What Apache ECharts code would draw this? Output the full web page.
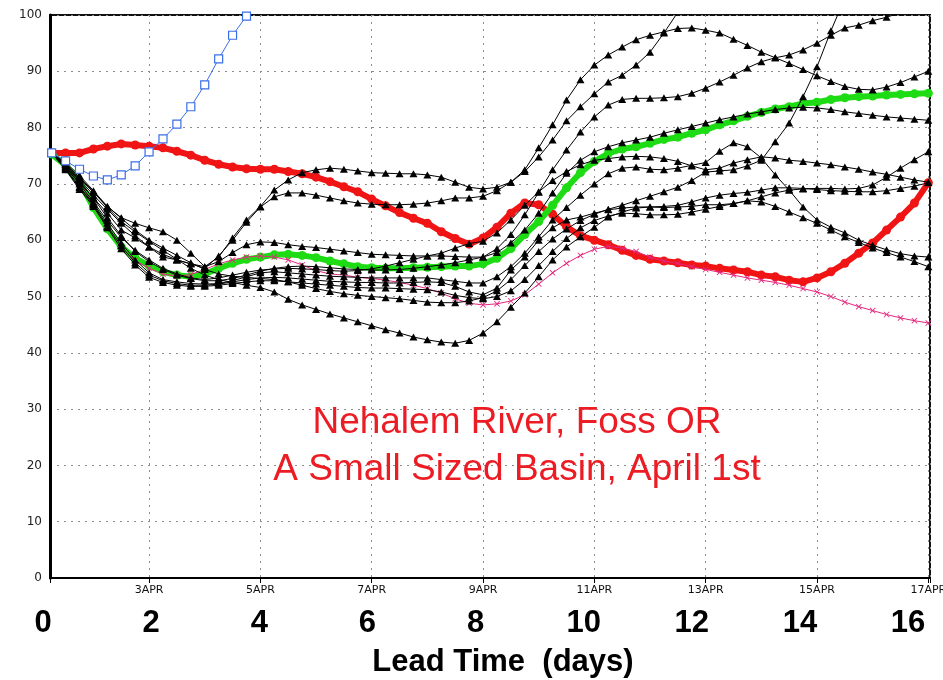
<!DOCTYPE html>
<html>
<head>
<meta charset="utf-8">
<script src="https://cdn.jsdelivr.net/npm/echarts@6/dist/echarts.min.js"></script>
<style>
  html, body { margin: 0; padding: 0; background: #ffffff; }
  #chart { width: 943px; height: 680px; }
</style>
</head>
<body>
<div id="chart"></div>
<script>
// Forecast valid times, in days after 1 April 00Z (6-hourly steps)
const leadDays = [
  0.25, 0.5, 0.75, 1, 1.25, 1.5, 1.75, 2, 2.25, 2.5, 2.75, 3, 3.25, 3.5, 3.75, 4,
  4.25, 4.5, 4.75, 5, 5.25, 5.5, 5.75, 6, 6.25, 6.5, 6.75, 7, 7.25, 7.5, 7.75, 8,
  8.25, 8.5, 8.75, 9, 9.25, 9.5, 9.75, 10, 10.25, 10.5, 10.75, 11, 11.25, 11.5, 11.75, 12,
  12.25, 12.5, 12.75, 13, 13.25, 13.5, 13.75, 14, 14.25, 14.5, 14.75, 15, 15.25, 15.5, 15.75, 16
];

// Date ticks on the plot axis and their labels
const dateTickDays = [2, 4, 6, 8, 10, 12, 14, 16];
const dateTickLabels = ['3APR', '5APR', '7APR', '9APR', '11APR', '13APR', '15APR', '17APR'];

// Lead-time labels under the dates
const leadTickValues = [0, 2, 4, 6, 8, 10, 12, 14, 16];

const annotationLines = ['Nehalem River, Foss OR', 'A Small Sized Basin, April 1st'];
const axisTitle = 'Lead Time  (days)';

// Single-valued forecast (red)
const singleValued = [
  75.5, 75.5, 75.5, 76.2, 76.7, 77.1, 76.9, 76.7,
  76.4, 75.8, 75.1, 74.2, 73.5, 73.0, 72.7, 72.6,
  72.6, 72.2, 71.8, 71.2, 70.4, 69.5, 68.6, 67.3,
  66.1, 64.9, 63.9, 63.0, 61.5, 60.3, 59.3, 60.4,
  62.3, 64.8, 66.6, 66.3, 64.6, 62.4, 60.8, 60.0,
  59.2, 58.2, 57.3, 56.6, 56.3, 56.0, 55.6, 55.4,
  55.0, 54.7, 54.4, 53.8, 53.5, 52.9, 52.6, 53.3,
  54.4, 55.9, 57.7, 59.5, 61.8, 64.1, 66.6, 70.2
];

// Ensemble mean (green)
const ensembleMean = [
  75.3, 73.3, 70.4, 65.8, 62.0, 58.8, 56.8, 55.5,
  54.4, 53.8, 53.5, 54.0, 55.0, 55.9, 56.6, 57.0,
  57.4, 57.5, 57.3, 56.9, 56.3, 55.8, 55.3, 55.1,
  55.0, 55.0, 55.1, 55.2, 55.3, 55.4, 55.4, 55.8,
  56.8, 58.5, 61.0, 63.3, 66.2, 69.3, 72.0, 74.0,
  75.4, 76.2, 76.6, 77.2, 77.9, 78.3, 79.0, 79.6,
  80.5, 81.2, 82.0, 82.7, 83.3, 83.7, 84.3, 84.5,
  85.0, 85.3, 85.5, 85.6, 85.8, 85.9, 86.0, 86.1
];

// Baseline simulation (magenta, x markers)
const baselineRun = [
  75.4, 73.6, 70.6, 65.9, 62.2, 58.6, 56.4, 55.0,
  54.0, 53.6, 53.9, 54.8, 55.8, 56.5, 57.0, 57.2,
  57.0, 56.5, 55.6, 54.6, 54.0, 53.8, 53.4, 53.2,
  52.9, 52.5, 52.0, 51.4, 50.6, 49.6, 48.8, 48.5,
  48.7, 49.2, 50.3, 52.2, 54.2, 55.9, 57.3, 58.4,
  58.9, 58.6, 58.0, 57.0, 56.3, 55.9, 55.3, 54.8,
  54.3, 53.8, 53.3, 52.9, 52.5, 52.0, 51.4, 50.8,
  50.0, 49.0, 48.2, 47.5, 46.8, 46.2, 45.7, 45.3
];

// Unadjusted run (blue, open squares) - leaves the scale early on day 4
const unadjustedRun = [
  75.5, 74.1, 72.6, 71.4, 70.7, 71.6, 73.2, 75.7,
  78.0, 80.6, 83.7, 87.6, 92.2, 96.4, 99.8, 103.5
];

// Ensemble members (black, triangles)
const member01 = [
  75.5, 73.5, 71.0, 68.5, 66.0, 64.0, 63.0, 62.2,
  61.5, 60.0, 57.7, 55.3, 57.0, 60.4, 63.6, 66.0,
  68.9, 70.7, 72.0, 72.5, 72.8, 72.6, 72.3, 72.0,
  71.9, 71.8, 71.8, 71.6, 71.2, 70.3, 69.4, 69.1,
  69.4, 70.3, 72.5, 76.4, 80.5, 84.9, 88.5, 91.1,
  92.9, 94.3, 95.6, 96.4, 97.0, 97.6, 97.7, 97.3,
  96.8, 95.7, 94.6, 93.4, 92.4, 91.4, 90.3, 89.2,
  88.2, 87.3, 86.8, 86.7, 87.2, 88.0, 89.0, 90.0
];
const member02 = [
  75.5, 73.0, 70.2, 67.5, 64.8, 61.8, 60.4, 58.8,
  57.0, 56.5, 55.8, 55.0, 57.2, 60.0, 63.2, 65.9,
  67.7, 68.4, 68.4, 68.0, 67.5, 67.0, 66.6, 66.4,
  66.3, 66.3, 66.4, 66.6, 67.0, 67.5, 67.5, 67.8,
  68.8, 70.3, 72.2, 74.8, 77.8, 81.2, 83.7, 86.0,
  88.1, 89.3, 91.1, 93.4, 96.8, 100.5, 104.5
];
const member03 = [
  75.5, 73.2, 70.5, 67.5, 64.0, 60.8, 58.0, 56.2,
  54.8, 53.8, 53.2, 52.8, 52.8, 53.2, 53.8, 54.5,
  55.0, 55.3, 55.4, 55.3, 55.1, 54.9, 54.8, 54.7,
  54.7, 54.8, 55.0, 55.3, 55.6, 56.0, 56.5, 57.0,
  58.5, 61.0, 64.5, 68.5, 72.5, 76.0, 79.2, 81.9,
  84.0, 85.0, 85.2, 85.2, 85.3, 85.5, 86.1, 87.0,
  88.1, 89.3, 90.6, 91.7, 92.4, 92.9, 93.8, 95.0,
  96.4, 97.7, 98.2, 99.0, 99.6, 100.4, 101.2, 102.0
];
const member04 = [
  75.5, 73.3, 70.8, 68.0, 65.5, 63.0, 60.8, 58.8,
  57.5, 56.5, 55.8, 55.3, 56.2, 57.8, 59.2, 59.7,
  59.6, 59.2, 58.9, 58.7, 58.4, 58.1, 57.8, 57.5,
  57.4, 57.3, 57.2, 57.2, 57.2, 57.1, 57.0, 57.0,
  57.8, 59.5, 61.8, 64.8, 68.4, 71.9, 74.2, 75.7,
  76.6, 77.3, 77.8, 78.3, 79.0, 79.6, 80.2, 80.8,
  81.4, 81.9, 82.4, 82.8, 83.2, 83.5, 83.6, 83.5,
  83.2, 82.8, 82.5, 82.2, 81.9, 81.7, 81.5, 81.3
];
const member05 = [
  75.5, 73.0, 70.0, 66.8, 63.5, 60.5, 58.2, 56.5,
  55.0, 54.0, 53.3, 53.0, 53.3, 53.8, 54.3, 54.7,
  54.9, 55.0, 54.9, 54.8, 54.6, 54.5, 54.6, 54.9,
  55.4, 56.0, 56.6, 57.2, 57.7, 58.6, 59.4, 59.8,
  61.3, 63.6, 66.2, 68.6, 70.6, 72.2, 73.4, 74.2,
  74.5, 74.8, 74.9, 74.8, 74.5, 74.0, 73.2, 72.5,
  72.8, 73.7, 74.3, 74.8, 74.6, 74.2, 74.0, 73.7,
  73.4, 73.0, 72.6, 72.1, 71.7, 71.2, 70.7, 70.3
];
const member06 = [
  75.5, 72.8, 69.5, 66.5, 63.0, 59.5, 56.5, 54.2,
  53.0, 52.6, 52.3, 52.2, 52.3, 52.8, 53.5, 54.2,
  54.4, 54.2, 54.0, 53.8, 53.6, 53.5, 53.4, 53.3,
  53.3, 53.3, 53.3, 53.3, 53.0, 52.7, 52.4, 52.4,
  53.5, 55.3, 57.7, 60.6, 63.6, 65.8, 68.0, 70.0,
  71.8, 72.8, 73.0, 72.6, 72.5, 72.8, 73.3, 73.8,
  75.8, 77.3, 76.6, 74.6, 71.6, 68.9, 65.9, 63.6,
  62.3, 61.3, 60.0, 59.1, 58.3, 57.6, 57.2, 57.0
];
const member07 = [
  75.5, 72.6, 69.3, 66.3, 62.5, 59.0, 56.0, 53.8,
  52.8, 52.3, 52.0, 52.0, 52.2, 52.6, 53.0, 53.3,
  53.4, 53.3, 53.1, 52.9, 52.7, 52.6, 52.5, 52.5,
  52.4, 52.4, 52.5, 52.6, 52.5, 51.8, 50.8, 50.3,
  51.5, 54.7, 57.0, 60.0, 62.2, 63.6, 64.1, 64.8,
  65.4, 65.7, 65.9, 65.9, 65.8, 65.9, 66.0, 66.3,
  66.3, 66.5, 67.0, 67.7, 68.4, 68.9, 69.1, 69.2,
  69.2, 69.1, 69.2, 69.8, 71.2, 72.8, 74.3, 75.7
];
const member08 = [
  75.5, 72.5, 69.0, 66.0, 62.2, 58.5, 55.6, 53.4,
  52.5, 52.0, 51.8, 51.8, 52.0, 52.3, 52.6, 52.8,
  52.8, 52.6, 52.4, 52.2, 52.0, 51.8, 51.6, 51.5,
  51.5, 51.4, 51.3, 51.2, 50.8, 50.2, 49.8, 49.6,
  50.0, 51.0, 53.0, 55.5, 58.0, 60.3, 62.2, 63.5,
  64.3, 64.8, 64.7, 64.5, 64.5, 64.6, 65.0, 65.5,
  66.0, 66.5, 67.0, 66.8, 66.0, 65.0, 64.0, 63.0,
  61.8, 60.6, 59.6, 58.6, 57.8, 57.0, 56.2, 55.3
];
const member09 = [
  75.5, 73.8, 71.5, 68.8, 66.0, 63.9, 61.8, 60.0,
  58.6, 57.3, 56.0, 54.8, 54.0, 53.6, 53.4, 53.2,
  53.0, 52.6, 52.0, 51.4, 50.9, 50.5, 50.2, 50.0,
  49.8, 49.6, 49.3, 49.0, 48.9, 48.9, 49.2, 49.8,
  51.0, 53.0, 55.5, 58.0, 60.2, 62.0, 63.5, 64.6,
  65.5, 66.2, 67.0, 67.8, 68.6, 69.4, 70.6, 72.1,
  72.3, 72.5, 73.2, 74.2, 77.5, 80.8, 85.5, 90.8,
  97.2, 103.0
];
const member10 = [
  75.5, 73.5, 71.2, 68.6, 65.8, 63.3, 61.5, 59.8,
  58.2, 56.6, 55.0, 53.8, 53.0, 52.5, 52.0, 51.6,
  50.8, 49.5, 48.5, 47.7, 46.9, 46.2, 45.5, 44.8,
  44.1, 43.5, 42.8, 42.3, 41.9, 41.7, 42.2, 43.5,
  45.5, 48.1, 50.6, 53.5, 56.5, 58.8, 60.6, 62.3,
  64.1, 65.0, 65.7, 65.9, 66.0, 66.2, 66.8, 67.5,
  68.0, 68.3, 68.5, 68.9, 69.3, 69.3, 69.2, 69.0,
  68.8, 68.7, 68.6, 68.6, 68.8, 69.2, 69.6, 70.2
];
const ensembleMembers = [member01, member02, member03, member04, member05,
                         member06, member07, member08, member09, member10];

// Pair each value with its valid time
const withTimes = vals => vals.map((v, i) => [leadDays[i], v]);

const gridLine = { color: '#8c8c8c', type: [2, 5], width: 1 };
const crossPath = 'path://M0,1L1,0L5,4L9,0L10,1L6,5L10,9L9,10L5,6L1,10L0,9L4,5Z';

const memberSeries = ensembleMembers.map((vals, k) => ({
  name: 'member' + (k + 1),
  type: 'line',
  data: withTimes(vals),
  symbol: 'triangle',
  symbolSize: [8, 7],
  showAllSymbol: true,
  lineStyle: { color: '#000000', width: 1 },
  itemStyle: { color: '#000000' },
  z: 5
}));

const option = {
  animation: false,
  backgroundColor: '#ffffff',
  grid: [
    { left: 50, right: 13, top: 15, bottom: 102, outerBoundsMode: 'none', containLabel: false,
      show: true, borderColor: '#111111', borderWidth: 2, backgroundColor: 'transparent' },
    { left: 43, right: 35, top: 582, height: 18, outerBoundsMode: 'none', containLabel: false }
  ],
  xAxis: [
    {
      type: 'value', gridIndex: 0, min: 0.22, max: 16.03, splitNumber: 8,
      axisLine: { show: true, onZero: false, lineStyle: { color: '#000000', width: 2 } },
      axisTick: { show: true, length: 5, lineStyle: { color: '#000000' } },
      axisLabel: {
        margin: 7, fontSize: 11, color: '#111111', fontFamily: 'DejaVu Sans',
        formatter: v => {
          const k = dateTickDays.indexOf(Math.round(v * 100) / 100);
          return k >= 0 ? dateTickLabels[k] : '';
        }
      },
      splitLine: { show: true, lineStyle: gridLine }
    },
    {
      type: 'value', gridIndex: 1, min: leadTickValues[0], max: leadTickValues[leadTickValues.length - 1], interval: 2,
      axisLine: { show: false }, axisTick: { show: false }, splitLine: { show: false },
      axisLabel: { margin: 8, fontSize: 31, fontWeight: 'bold', color: '#000000', fontFamily: '"Liberation Sans", Arial, sans-serif' }
    }
  ],
  yAxis: [
    {
      type: 'value', gridIndex: 0, min: 0, max: 100, interval: 10,
      axisLine: { show: true, lineStyle: { color: '#000000', width: 3 } },
      axisTick: { show: false },
      axisLabel: { margin: 8, fontSize: 12, color: '#222222', fontFamily: 'DejaVu Sans' },
      splitLine: { show: true, lineStyle: gridLine }
    },
    { type: 'value', gridIndex: 1, show: false, min: 0, max: 1 }
  ],
  graphic: [
    {
      type: 'text', x: 517, y: 423, z: 100,
      style: { text: annotationLines[0], fill: '#ec1c24', font: '37px "Liberation Sans", Arial, sans-serif',
               textAlign: 'center', textVerticalAlign: 'middle', align: 'center', verticalAlign: 'middle' }
    },
    {
      type: 'text', x: 517, y: 470, z: 100,
      style: { text: annotationLines[1], fill: '#ec1c24', font: '37px "Liberation Sans", Arial, sans-serif',
               textAlign: 'center', textVerticalAlign: 'middle', align: 'center', verticalAlign: 'middle' }
    },
    {
      type: 'text', x: 503, y: 662, z: 100,
      style: { text: axisTitle, fill: '#000000', font: 'bold 31px "Liberation Sans", Arial, sans-serif',
               textAlign: 'center', textVerticalAlign: 'middle', align: 'center', verticalAlign: 'middle' }
    }
  ],
  series: [
    {
      name: 'single-valued', type: 'line', data: withTimes(singleValued),
      symbol: 'circle', symbolSize: 9, showAllSymbol: true,
      lineStyle: { color: '#f01414', width: 6 }, itemStyle: { color: '#f01414' }, z: 2
    },
    {
      name: 'ensemble mean', type: 'line', data: withTimes(ensembleMean),
      symbol: 'circle', symbolSize: 9, showAllSymbol: true,
      lineStyle: { color: '#1edc14', width: 6 }, itemStyle: { color: '#1edc14' }, z: 3
    },
    {
      name: 'baseline', type: 'line', data: withTimes(baselineRun),
      symbol: crossPath, symbolSize: 6, showAllSymbol: true,
      lineStyle: { color: '#e4287e', width: 1 }, itemStyle: { color: '#e4287e' }, z: 4
    },
    ...memberSeries,
    {
      name: 'unadjusted', type: 'line', data: withTimes(unadjustedRun),
      symbol: 'rect', symbolSize: 8, showAllSymbol: true,
      lineStyle: { color: '#3a6ee8', width: 1 },
      itemStyle: { color: '#ffffff', borderColor: '#3a6ee8', borderWidth: 1.2 }, z: 6
    }
  ]
};

const chart = echarts.init(document.getElementById('chart'));
chart.setOption(option);
</script>
</body>
</html>
